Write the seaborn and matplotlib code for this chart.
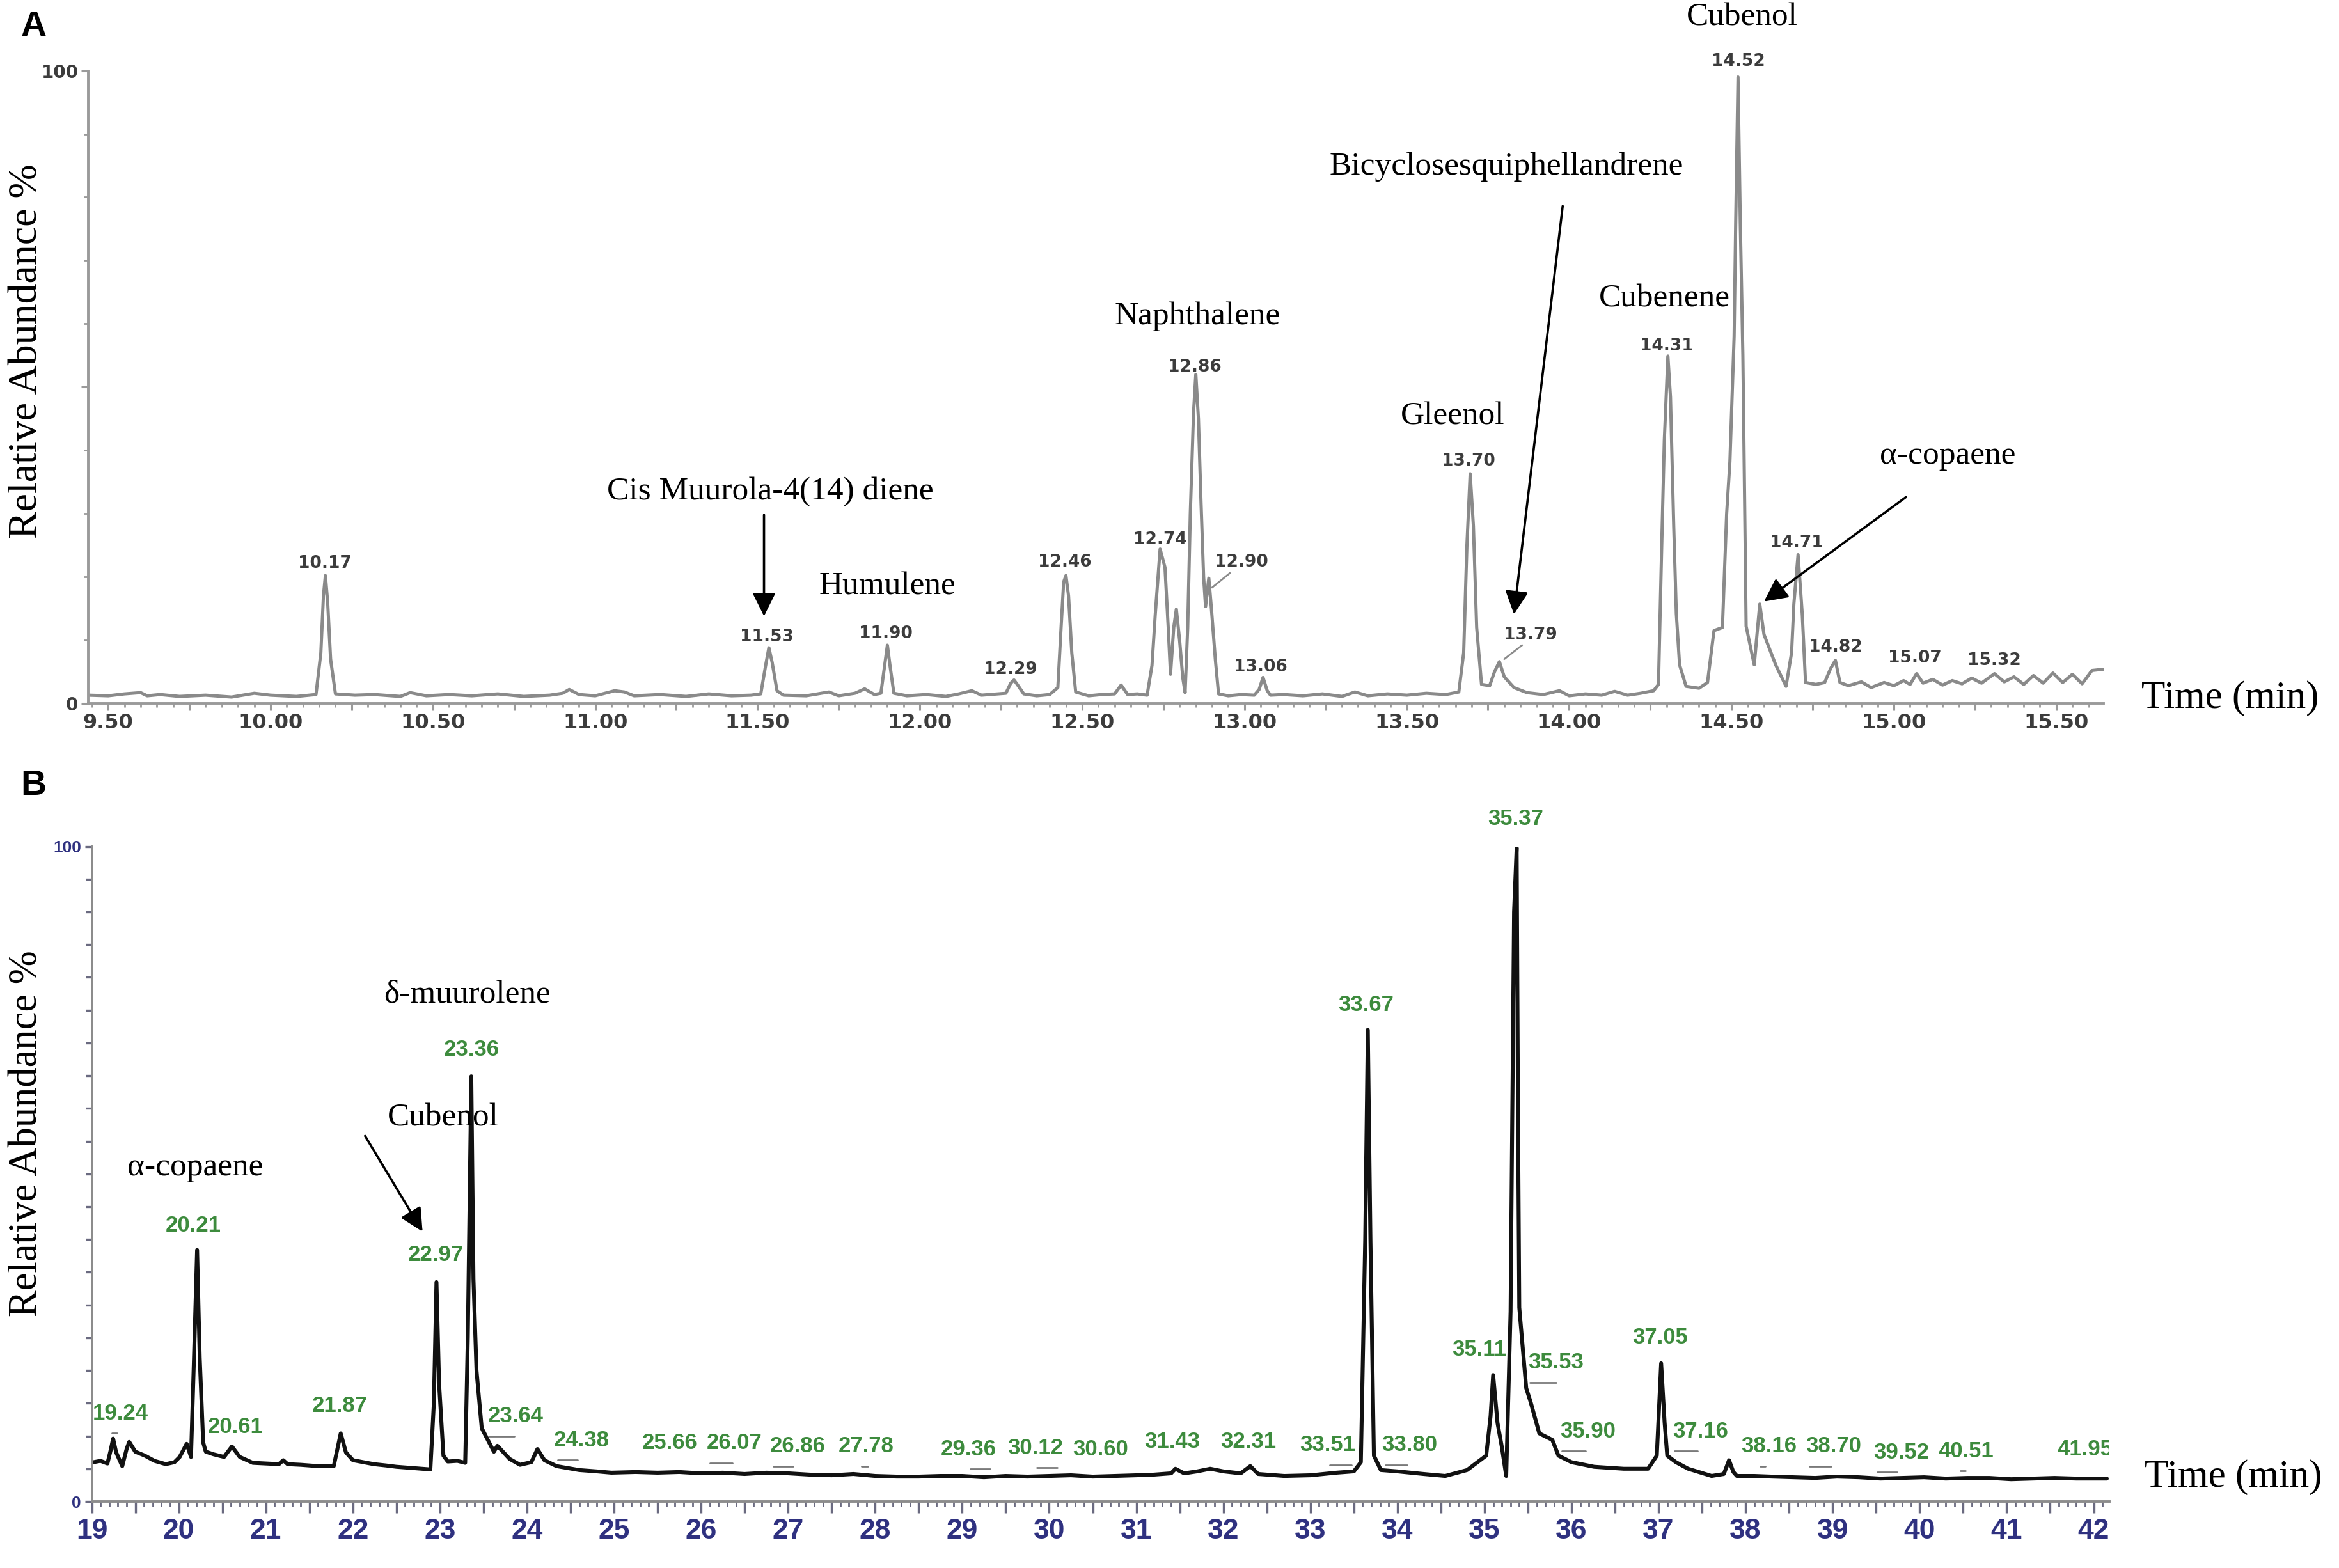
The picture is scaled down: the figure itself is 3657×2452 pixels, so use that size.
import numpy as np
import pandas as pd
import matplotlib
matplotlib.use("Agg")
import matplotlib.pyplot as plt
import seaborn as sns

# ---------------- DATA ----------------
# Panel A chromatogram (time in min, relative abundance %)
a_time = [9.44, 9.50, 9.55, 9.60, 9.62, 9.66, 9.72, 9.80, 9.88, 9.95, 10.00, 10.08, 10.14,
          10.155, 10.163, 10.169, 10.176, 10.185, 10.20, 10.26, 10.32, 10.40, 10.43, 10.48,
          10.55, 10.62, 10.70, 10.78, 10.86, 10.90, 10.92, 10.95, 11.00, 11.06, 11.09, 11.12,
          11.20, 11.28, 11.35, 11.42, 11.48, 11.51, 11.525, 11.535, 11.545, 11.56, 11.58,
          11.65, 11.72, 11.75, 11.80, 11.83, 11.86, 11.88, 11.893, 11.90, 11.908, 11.92,
          11.96, 12.02, 12.08, 12.12, 12.16, 12.19, 12.24, 12.265, 12.28, 12.29, 12.30,
          12.32, 12.36, 12.40, 12.425, 12.435, 12.443, 12.45, 12.458, 12.468, 12.48, 12.52,
          12.56, 12.60, 12.62, 12.64, 12.67, 12.70, 12.715, 12.725, 12.74, 12.755, 12.765,
          12.772, 12.782, 12.79, 12.80, 12.81, 12.817, 12.825, 12.833, 12.843, 12.85,
          12.858, 12.866, 12.874, 12.88, 12.89, 12.898, 12.91, 12.92, 12.95, 12.99, 13.03,
          13.045, 13.057, 13.07, 13.08, 13.12, 13.18, 13.24, 13.30, 13.34, 13.38, 13.44,
          13.50, 13.56, 13.62, 13.66, 13.675, 13.685, 13.695, 13.705, 13.715, 13.73, 13.755,
          13.77, 13.785, 13.80, 13.83, 13.87, 13.92, 13.97, 14.00, 14.05, 14.10, 14.14,
          14.18, 14.22, 14.26, 14.275, 14.285, 14.293, 14.304, 14.312, 14.322, 14.33, 14.34,
          14.36, 14.40, 14.426, 14.446, 14.472, 14.485, 14.495, 14.508, 14.513, 14.52,
          14.527, 14.535, 14.545, 14.57, 14.587, 14.60, 14.636, 14.668, 14.685, 14.692,
          14.705, 14.718, 14.728, 14.76, 14.787, 14.805, 14.82, 14.834, 14.86, 14.90, 14.93,
          14.97, 15.00, 15.03, 15.05, 15.07, 15.09, 15.12, 15.15, 15.18, 15.21, 15.24, 15.27,
          15.31, 15.34, 15.37, 15.40, 15.43, 15.46, 15.49, 15.52, 15.55, 15.58, 15.61, 15.645]
a_abund = [1.3, 1.2, 1.5, 1.7, 1.2, 1.4, 1.1, 1.3, 1.0, 1.6, 1.3, 1.1, 1.4,
           8.0, 17.0, 20.2, 16.0, 7.0, 1.5, 1.3, 1.4, 1.1, 1.7, 1.2,
           1.4, 1.2, 1.5, 1.1, 1.3, 1.6, 2.2, 1.4, 1.2, 2.0, 1.8, 1.2,
           1.4, 1.1, 1.5, 1.2, 1.3, 1.5, 6.0, 8.8, 6.5, 2.0, 1.3,
           1.2, 1.8, 1.2, 1.6, 2.3, 1.4, 1.6, 6.5, 9.2, 6.0, 1.6,
           1.2, 1.4, 1.1, 1.5, 2.0, 1.3, 1.5, 1.6, 3.2, 3.7, 3.0,
           1.5, 1.2, 1.4, 2.5, 12.0, 19.2, 20.2, 17.0, 8.0, 1.8, 1.2,
           1.4, 1.5, 2.9, 1.4, 1.5, 1.3, 6.0, 14.0, 24.4, 21.5, 12.0,
           4.6, 12.0, 14.9, 10.0, 4.0, 1.7, 12.0, 30.0, 46.0, 52.0,
           45.0, 31.8, 20.0, 15.3, 19.8, 15.0, 7.0, 1.5, 1.2, 1.4, 1.3,
           2.2, 4.1, 2.0, 1.3, 1.4, 1.2, 1.5, 1.1, 1.8, 1.2, 1.5,
           1.3, 1.6, 1.4, 1.8, 8.0, 25.0, 36.3, 28.0, 12.0, 3.0, 2.8,
           5.0, 6.6, 4.2, 2.5, 1.7, 1.4, 2.0, 1.2, 1.5, 1.3, 1.9,
           1.3, 1.6, 2.0, 3.0, 25.0, 41.6, 54.9, 48.4, 28.0, 14.2, 6.1,
           2.7, 2.4, 3.3, 11.5, 12.0, 30.0, 38.2, 58.0, 76.4, 99.0,
           76.0, 55.0, 12.2, 6.1, 15.7, 10.9, 6.1, 2.7, 8.0, 15.7,
           23.5, 14.0, 3.3, 3.0, 3.3, 5.5, 6.8, 3.3, 2.8, 3.4, 2.5,
           3.3, 2.8, 3.6, 3.0, 4.7, 3.2, 3.8, 2.9, 3.6, 3.1, 4.0, 3.2,
           4.7, 3.4, 4.2, 3.0, 4.4, 3.2, 4.8, 3.3, 4.6, 3.1, 5.2, 5.4]

# Panel B chromatogram
b_time = [19.02, 19.10, 19.18, 19.22, 19.245, 19.28, 19.35, 19.40, 19.43, 19.50, 19.61,
          19.72, 19.85, 19.95, 20.01, 20.09, 20.14, 20.17, 20.21, 20.24, 20.28, 20.31,
          20.40, 20.52, 20.61, 20.70, 20.85, 21.00, 21.15, 21.20, 21.25, 21.40, 21.60,
          21.78, 21.86, 21.92, 22.00, 22.12, 22.24, 22.38, 22.50, 22.70, 22.89, 22.93,
          22.96, 22.99, 23.04, 23.09, 23.20, 23.29, 23.32, 23.36, 23.385, 23.42, 23.48,
          23.62, 23.66, 23.80, 23.92, 24.05, 24.12, 24.20, 24.34, 24.60, 24.80, 24.97,
          25.25, 25.5, 25.75, 26.0, 26.25, 26.5, 26.75, 27.0, 27.25, 27.5, 27.75, 28.0,
          28.25, 28.5, 28.75, 29.0, 29.25, 29.5, 29.75, 30.0, 30.25, 30.5, 30.75, 31.0,
          31.20, 31.40, 31.45, 31.55, 31.70, 31.85, 32.00, 32.20, 32.31, 32.40, 32.70,
          33.00, 33.30, 33.50, 33.58, 33.63, 33.66, 33.69, 33.73, 33.81, 34.00, 34.30,
          34.55, 34.80, 35.02, 35.07, 35.10, 35.15, 35.20, 35.25, 35.30, 35.34, 35.37,
          35.385, 35.40, 35.48, 35.53, 35.63, 35.78, 35.85, 36.00, 36.26, 36.60, 36.88,
          36.98, 37.03, 37.07, 37.10, 37.20, 37.34, 37.61, 37.75, 37.81, 37.86, 37.90,
          38.1, 38.3, 38.55, 38.8, 39.05, 39.3, 39.55, 39.8, 40.05, 40.3, 40.55, 40.8,
          41.05, 41.3, 41.55, 41.8, 42.15]
b_abund = [6.0, 6.2, 5.8, 8.0, 9.6, 7.5, 5.4, 8.0, 9.1, 7.6, 7.0,
           6.2, 5.7, 6.0, 6.8, 8.8, 6.8, 20.0, 38.4, 22.0, 9.0, 7.6,
           7.2, 6.8, 8.4, 6.8, 5.9, 5.8, 5.7, 6.3, 5.7, 5.6, 5.4,
           5.4, 10.4, 7.5, 6.3, 6.0, 5.7, 5.5, 5.3, 5.1, 4.9, 15.0,
           33.5, 18.0, 7.0, 6.1, 6.2, 5.9, 25.0, 64.9, 34.0, 20.0, 11.2,
           7.6, 8.5, 6.5, 5.6, 6.0, 8.0, 6.3, 5.4, 4.8, 4.6, 4.4,
           4.5, 4.4, 4.5, 4.3, 4.4, 4.2, 4.4, 4.3, 4.1, 4.0, 4.2, 3.9,
           3.8, 3.8, 3.9, 3.9, 3.7, 3.9, 3.8, 3.9, 4.0, 3.8, 3.9, 4.0,
           4.1, 4.3, 5.0, 4.3, 4.6, 5.0, 4.6, 4.3, 5.4, 4.2, 3.9,
           4.0, 4.4, 4.6, 6.0, 40.0, 72.0, 40.0, 7.0, 4.8, 4.6, 4.2,
           3.9, 4.8, 7.0, 13.0, 19.3, 12.0, 8.3, 3.9, 29.0, 90.0, 99.8,
           60.0, 29.6, 17.3, 15.2, 10.4, 9.4, 7.0, 6.0, 5.3, 5.0, 5.0,
           7.0, 21.1, 12.0, 7.0, 6.0, 5.0, 3.9, 4.2, 6.3, 4.5, 3.9,
           3.9, 3.8, 3.7, 3.6, 3.8, 3.7, 3.5, 3.6, 3.7, 3.5, 3.6, 3.6,
           3.4, 3.5, 3.6, 3.5, 3.5]

a_peak_labels = ["10.17", "11.53", "11.90", "12.29", "12.46", "12.74", "12.86", "12.90",
                 "13.06", "13.70", "13.79", "14.31", "14.52", "14.71", "14.82", "15.07", "15.32"]
b_peak_labels = ["19.24", "20.21", "20.61", "21.87", "22.97", "23.36", "23.64", "24.38",
                 "25.66", "26.07", "26.86", "27.78", "29.36", "30.12", "30.60", "31.43",
                 "32.31", "33.51", "33.67", "33.80", "35.11", "35.37", "35.53", "35.90",
                 "37.05", "37.16", "38.16", "38.70", "39.52", "40.51", "41.95"]
a_compounds = ["Cis Muurola-4(14) diene", "Humulene", "Naphthalene", "Gleenol",
               "Bicyclosesquiphellandrene", "Cubenene", "Cubenol", "\u03b1-copaene"]
b_compounds = ["\u03b1-copaene", "Cubenol", "\u03b4-muurolene"]
a_xticks = [9.5, 10.0, 10.5, 11.0, 11.5, 12.0, 12.5, 13.0, 13.5, 14.0, 14.5, 15.0, 15.5]
b_xticks = [19, 20, 21, 22, 23, 24, 25, 26, 27, 28, 29, 30, 31, 32, 33, 34, 35, 36, 37,
            38, 39, 40, 41, 42]

# ---------------- LAYOUT (annotation anchors in data units) ----------------
a_label_xy = [(10.168, 22.1), (11.528, 10.5), (11.895, 11.0), (12.28, 5.4), (12.447, 22.3),
              (12.74, 25.9), (12.846, 53.2), (12.99, 22.3), (13.05, 5.8), (13.69, 38.3),
              (13.88, 10.8), (14.30, 56.5), (14.52, 101.5), (14.70, 25.4), (14.82, 8.9),
              (15.065, 7.2), (15.31, 6.8)]
b_label_xy = [(19.33, 13.4), (20.17, 42.1), (20.65, 11.4), (21.85, 14.6), (22.95, 37.6),
              (23.36, 69.0), (23.87, 13.0), (24.63, 9.3), (25.64, 8.9), (26.38, 8.9),
              (27.11, 8.4), (27.90, 8.4), (29.07, 8.0), (29.84, 8.2), (30.59, 8.0),
              (31.41, 9.1), (32.29, 9.1), (33.20, 8.6), (33.64, 75.8), (34.14, 8.6),
              (34.94, 23.2), (35.36, 104.2), (35.82, 21.2), (36.19, 10.7), (37.02, 25.0),
              (37.48, 10.7), (38.27, 8.4), (39.01, 8.4), (39.79, 7.5), (40.53, 7.7),
              (41.90, 8.0)]
# small grey peak-marker bars under some B labels (offsets from label centre, minutes)
b_underline = {"23.64": (-0.30, -0.02), "24.38": (-0.28, -0.05), "26.07": (-0.28, -0.02),
               "26.86": (-0.28, -0.05), "27.78": (-0.06, 0.02), "29.36": (0.02, 0.25),
               "30.12": (0.02, 0.25), "33.51": (0.02, 0.27), "33.80": (-0.28, -0.03),
               "35.53": (-0.30, 0.00), "35.90": (-0.30, -0.03), "37.16": (-0.30, -0.03),
               "38.16": (-0.10, -0.04), "38.70": (-0.28, -0.03), "39.52": (-0.28, -0.05),
               "40.51": (-0.06, 0.00), "19.24": (-0.10, -0.04)}
a_comp_xy = [(11.54, 33.5), (11.90, 18.5), (12.855, 61.2), (13.64, 45.4), (13.806, 84.8),
             (14.294, 64.0), (14.533, 108.4), (15.166, 39.1)]
b_comp_xy = [(20.19, 51.0), (23.04, 58.5), (23.31, 77.4)]
a_arrows = [((11.52, 29.8), (11.52, 13.8)), ((13.98, 78.6), (13.83, 14.1)),
            ((15.037, 32.6), (14.60, 16.1))]
b_arrows = [((22.14, 55.8), (22.80, 41.2))]

# ---------------- STYLE ----------------
sns.set_theme(style="white")
SERIF = ["Liberation Serif", "DejaVu Serif"]
NARROW = ["Liberation Sans Narrow", "Liberation Sans", "DejaVu Sans"]
plt.rcParams["font.family"] = ["DejaVu Sans"]

fig = plt.figure(figsize=(36.57, 24.52), dpi=100)
fig.patch.set_facecolor("white")
axA = fig.add_axes([0.03765, 0.5514, 0.8617, 0.4035])
axB = fig.add_axes([0.03924, 0.04241, 0.8626, 0.4178])

dfA = pd.DataFrame({"Time": a_time, "Abundance": a_abund})
dfB = pd.DataFrame({"Time": b_time, "Abundance": b_abund})
sns.lineplot(data=dfA, x="Time", y="Abundance", ax=axA, color="#8a8a8a", linewidth=3.6,
             estimator=None, sort=False)
sns.lineplot(data=dfB, x="Time", y="Abundance", ax=axB, color="#111111", linewidth=4.4,
             estimator=None, sort=False)

for ax in (axA, axB):
    ax.set_facecolor("white")
    ax.spines["top"].set_visible(False)
    ax.spines["right"].set_visible(False)
    ax.set_xlabel("")
    ax.set_ylabel("")
    ax.grid(False)

# ---- Panel A axes ----
axA.set_xlim(9.438, 15.646)
axA.set_ylim(0, 100)
for s in ("left", "bottom"):
    axA.spines[s].set_color("#9a9a9a")
    axA.spines[s].set_linewidth(2.8)
a_major = [9.5 + 0.25 * i for i in range(25)]
a_major_lab = [f"{v:.2f}" if v in a_xticks else "" for v in a_major]
axA.set_xticks(a_major, labels=a_major_lab, fontsize=23,
               fontweight="bold", color="#3c3c3c", family="DejaVu Sans")
axA.set_xticks([9.45 + 0.05 * i for i in range(124)], minor=True)
axA.set_yticks([0, 50, 100], labels=["0", "", "100"], fontsize=20, fontweight="bold",
               color="#3c3c3c", family="DejaVu Sans")
axA.set_yticks(list(range(0, 101, 10)), minor=True)
axA.tick_params(axis="x", which="major", direction="out", length=8, width=2.2,
                color="#9a9a9a", pad=3, bottom=True)
axA.tick_params(axis="x", which="minor", direction="out", length=4, width=2,
                color="#9a9a9a", bottom=True)
axA.tick_params(axis="y", which="major", direction="out", length=8, width=2.2,
                color="#9a9a9a", pad=3, left=True)
axA.tick_params(axis="y", which="minor", direction="out", length=5, width=2,
                color="#9a9a9a", left=True)

for txt, (x, y) in zip(a_peak_labels, a_label_xy):
    axA.text(x, y, txt, ha="center", va="center", fontsize=19, fontweight="bold",
             color="#3c3c3c", family="DejaVu Sans", clip_on=False)
# leader lines for shoulder labels
axA.plot([12.955, 12.90], [20.6, 18.3], color="#8a8a8a", lw=2)
axA.plot([13.855, 13.80], [9.2, 7.0], color="#8a8a8a", lw=2)

for txt, (x, y) in zip(a_compounds, a_comp_xy):
    axA.text(x, y, txt, ha="center", va="center", fontsize=37, color="black",
             family=SERIF, clip_on=False)
for (xy0, xy1) in a_arrows:
    axA.annotate("", xy=xy1, xytext=xy0,
                 arrowprops=dict(arrowstyle="-|>", color="black", lw=2.6,
                                 mutation_scale=55, shrinkA=0, shrinkB=0))

# ---- Panel B axes ----
axB.set_xlim(19, 42.18)
axB.set_ylim(0, 100)
for s in ("left", "bottom"):
    axB.spines[s].set_color("#8c8c8c")
    axB.spines[s].set_linewidth(2.8)
b_major = [19 + 0.5 * i for i in range(47)]
b_major_lab = [str(int(v)) if v in b_xticks else "" for v in b_major]
axB.set_xticks(b_major, labels=b_major_lab, fontsize=32,
               fontweight="bold", color="#2f3180", family=NARROW)
axB.set_xticks([19 + 0.1 * i for i in range(232)], minor=True)
axB.set_yticks([0, 100], labels=["0", "100"], fontsize=19, fontweight="bold",
               color="#2f3180", family=NARROW)
axB.set_yticks(list(range(0, 101, 5)), minor=True)
axB.tick_params(axis="x", which="major", direction="out", length=13, width=2.4,
                color="#6a6a80", pad=6, bottom=True)
axB.tick_params(axis="x", which="minor", direction="out", length=6, width=2,
                color="#6a6a80", bottom=True)
axB.tick_params(axis="y", which="major", direction="out", length=8, width=2.4,
                color="#6a6a80", pad=4, left=True)
axB.tick_params(axis="y", which="minor", direction="out", length=7, width=2.4,
                color="#6a6a80", left=True)

for txt, (x, y) in zip(b_peak_labels, b_label_xy):
    axB.text(x, y, txt, ha="center", va="center", fontsize=25, fontweight="bold",
             color="#3d8b3d", family=NARROW, clip_on=(txt == "41.95"))
    if txt in b_underline:
        d0, d1 = b_underline[txt]
        axB.plot([x + d0, x + d1], [y - 3.0, y - 3.0], color="#7a7a7a", lw=2)

for txt, (x, y) in zip(b_compounds, b_comp_xy):
    axB.text(x, y, txt, ha="center", va="center", fontsize=37, color="black",
             family=SERIF, clip_on=False)
for (xy0, xy1) in b_arrows:
    axB.annotate("", xy=xy1, xytext=xy0,
                 arrowprops=dict(arrowstyle="-|>", color="black", lw=2.6,
                                 mutation_scale=55, shrinkA=0, shrinkB=0))

# ---- figure-level text ----
fig.text(0.0089, 0.983, "A", ha="left", va="center", fontsize=40, fontweight="bold",
         family=["Liberation Sans", "DejaVu Sans"], color="black")
fig.text(0.0089, 0.4986, "B", ha="left", va="center", fontsize=40, fontweight="bold",
         family=["Liberation Sans", "DejaVu Sans"], color="black")
fig.text(0.0115, 0.776, "Relative Abundance %", rotation=90, ha="center", va="center",
         fontsize=46, family=SERIF, color="black")
fig.text(0.0115, 0.2769, "Relative Abundance %", rotation=90, ha="center", va="center",
         fontsize=45, family=SERIF, color="black")
fig.text(0.9534, 0.5547, "Time (min)", ha="center", va="center", fontsize=44,
         family=SERIF, color="black")
fig.text(0.9547, 0.058, "Time (min)", ha="center", va="center", fontsize=44,
         family=SERIF, color="black")

fig.savefig("out.png", dpi=100, facecolor="white")
